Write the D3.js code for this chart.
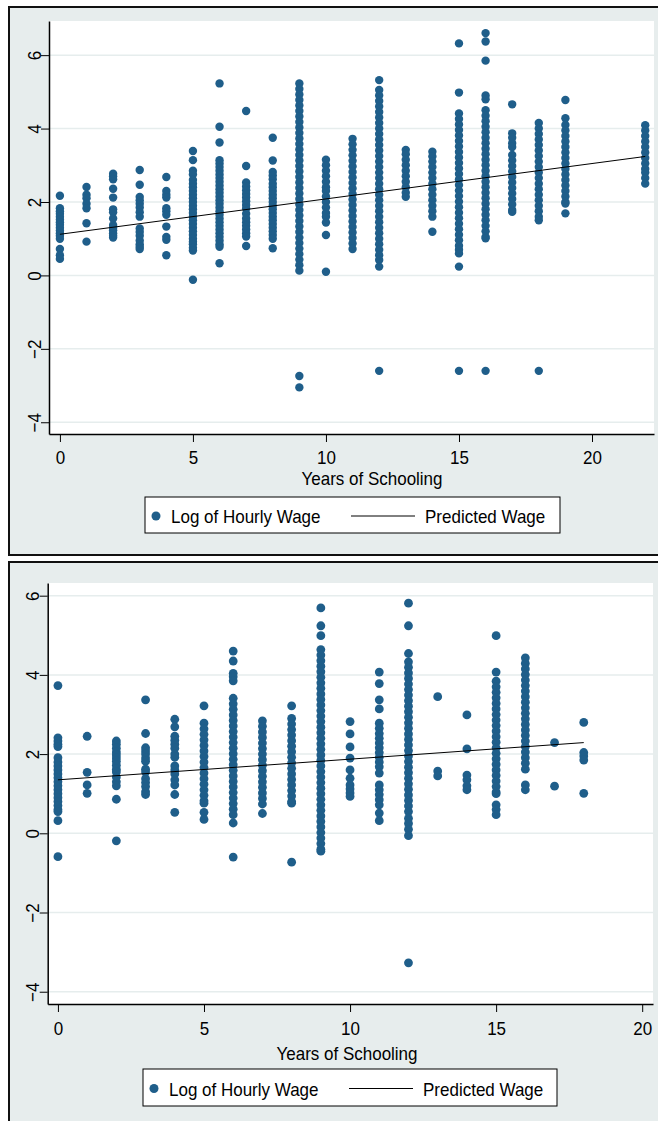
<!DOCTYPE html>
<html>
<head>
<meta charset="utf-8">
<script src="https://cdn.jsdelivr.net/npm/d3@7"></script>
<style>
  html, body { margin: 0; padding: 0; background: #fff; overflow: hidden; }
  svg { display: block; font-family: "Liberation Sans", Arial, sans-serif; }
</style>
</head>
<body>
<div id="chart"></div>
<script>
// --- data ---
const xTicks = [0, 5, 10, 15, 20];
const yTicks = [-4, -2, 0, 2, 4, 6];
const xTitle = 'Years of Schooling';
const legendLabels = ['Log of Hourly Wage', 'Predicted Wage'];

// top panel
const years1 = [0, 1, 2, 3, 4, 5, 6, 7, 8, 9, 10, 11, 12, 13, 14, 15, 16, 17, 18, 19, 22];
const wage1 = [
  [2.17, 1.83, 1.75, 1.68, 1.6, 1.52, 1.45, 1.38, 1.3, 1.22, 1.15, 1.08, 1.0, 0.72, 0.55, 0.45],
  [2.41, 2.2, 2.1, 1.95, 1.83, 1.42, 0.92],
  [2.77, 2.7, 2.62, 2.36, 2.12, 1.8, 1.72, 1.55, 1.37, 1.3, 1.23, 1.15, 1.08, 1.03],
  [2.87, 2.47, 2.14, 2.05, 1.95, 1.85, 1.72, 1.6, 1.28, 1.18, 1.08, 0.95, 0.85, 0.78, 0.72],
  [2.68, 2.3, 2.2, 2.12, 1.83, 1.75, 1.65, 1.33, 1.05, 0.97, 0.55],
  [3.39, 3.14, 2.85, 2.75, 2.6, 2.5, 2.4, 2.3, 2.2, 2.1, 2.0, 1.9, 1.8, 1.7, 1.6, 1.5, 1.4, 1.3, 1.2, 1.1, 1.0, 0.92, 0.85, 0.75, 0.68, -0.12],
  [5.23, 4.05, 3.62, 3.14, 3.05, 2.95, 2.85, 2.75, 2.65, 2.55, 2.45, 2.35, 2.25, 2.15, 2.05, 1.95, 1.85, 1.75, 1.65, 1.55, 1.45, 1.35, 1.25, 1.15, 1.05, 0.95, 0.85, 0.78, 0.33],
  [4.48, 2.98, 2.53, 2.42, 2.32, 2.22, 2.12, 2.02, 1.92, 1.82, 1.68, 1.55, 1.45, 1.35, 1.25, 1.15, 1.06, 0.8],
  [3.75, 3.13, 2.82, 2.72, 2.62, 2.5, 2.4, 2.3, 2.2, 2.1, 2.0, 1.9, 1.8, 1.7, 1.6, 1.5, 1.4, 1.3, 1.2, 1.1, 1.0, 0.74],
  [5.23, 5.08, 4.93, 4.78, 4.63, 4.48, 4.33, 4.18, 4.03, 3.88, 3.73, 3.58, 3.43, 3.28, 3.13, 2.98, 2.83, 2.68, 2.53, 2.38, 2.23, 2.08, 1.93, 1.78, 1.63, 1.48, 1.33, 1.18, 1.03, 0.88, 0.73, 0.58, 0.43, 0.28, 0.13, -2.74, -3.05],
  [3.15, 3.0, 2.85, 2.7, 2.55, 2.4, 2.3, 2.15, 2.0, 1.85, 1.7, 1.6, 1.44, 1.1, 0.1],
  [3.72, 3.57, 3.42, 3.27, 3.12, 2.97, 2.82, 2.67, 2.52, 2.37, 2.22, 2.07, 1.92, 1.77, 1.62, 1.47, 1.32, 1.17, 1.02, 0.87, 0.72],
  [5.32, 5.05, 4.9, 4.75, 4.6, 4.45, 4.3, 4.15, 4.0, 3.85, 3.7, 3.55, 3.4, 3.25, 3.1, 2.95, 2.8, 2.65, 2.5, 2.35, 2.2, 2.05, 1.9, 1.75, 1.6, 1.45, 1.3, 1.15, 1.0, 0.85, 0.7, 0.55, 0.42, 0.24, -2.6],
  [3.42, 3.3, 3.15, 3.0, 2.85, 2.7, 2.55, 2.4, 2.25, 2.14],
  [3.37, 3.24, 3.1, 2.95, 2.8, 2.65, 2.5, 2.35, 2.2, 2.05, 1.9, 1.75, 1.6, 1.19],
  [6.32, 4.98, 4.41, 4.26, 4.11, 3.96, 3.81, 3.66, 3.51, 3.36, 3.21, 3.06, 2.91, 2.76, 2.61, 2.46, 2.31, 2.16, 2.01, 1.86, 1.71, 1.56, 1.41, 1.26, 1.11, 0.96, 0.81, 0.7, 0.6, 0.24, -2.6],
  [6.6, 6.37, 5.85, 4.9, 4.8, 4.5, 4.35, 4.2, 4.05, 3.9, 3.75, 3.6, 3.45, 3.3, 3.15, 3.0, 2.85, 2.7, 2.55, 2.4, 2.25, 2.1, 1.95, 1.8, 1.65, 1.5, 1.35, 1.2, 1.05, 1.01, -2.6],
  [4.66, 3.87, 3.75, 3.6, 3.5, 3.28, 3.13, 2.98, 2.83, 2.68, 2.53, 2.38, 2.23, 2.08, 1.93, 1.78, 1.73],
  [4.15, 4.0, 3.85, 3.7, 3.55, 3.4, 3.25, 3.1, 2.95, 2.8, 2.65, 2.5, 2.35, 2.2, 2.05, 1.9, 1.75, 1.6, 1.5, -2.6],
  [4.78, 4.28, 4.1, 3.95, 3.8, 3.65, 3.5, 3.35, 3.2, 3.05, 2.9, 2.75, 2.6, 2.45, 2.3, 2.15, 2.0, 1.96, 1.69],
  [4.09, 3.95, 3.8, 3.65, 3.5, 3.35, 3.2, 3.05, 2.9, 2.8, 2.65, 2.5]
];
const fitX1 = [0, 22];
const fitY1 = [1.12, 3.24];

// bottom panel
const years2 = [0, 1, 2, 3, 4, 5, 6, 7, 8, 9, 10, 11, 12, 13, 14, 15, 16, 17, 18];
const wage2 = [
  [3.73, 2.41, 2.33, 2.25, 2.19, 1.91, 1.8, 1.7, 1.6, 1.5, 1.4, 1.3, 1.2, 1.1, 1.0, 0.9, 0.8, 0.7, 0.6, 0.55, 0.32, -0.59],
  [2.45, 1.54, 1.22, 1.01],
  [2.33, 2.25, 2.15, 2.05, 1.98, 1.9, 1.82, 1.72, 1.62, 1.55, 1.42, 1.3, 1.2, 0.86, -0.19],
  [3.37, 2.52, 2.16, 2.08, 2.0, 1.9, 1.82, 1.62, 1.55, 1.38, 1.28, 1.18, 1.05, 0.98],
  [2.88, 2.69, 2.45, 2.35, 2.25, 2.15, 2.0, 1.92, 1.7, 1.6, 1.5, 1.35, 1.22, 0.98, 0.53],
  [3.22, 2.78, 2.64, 2.5, 2.36, 2.22, 2.08, 1.94, 1.8, 1.66, 1.52, 1.38, 1.24, 1.1, 0.96, 0.82, 0.76, 0.53, 0.35],
  [4.6, 4.35, 4.04, 3.95, 3.85, 3.41, 3.27, 3.13, 2.99, 2.85, 2.71, 2.57, 2.43, 2.29, 2.15, 2.01, 1.87, 1.73, 1.59, 1.45, 1.31, 1.17, 1.03, 0.89, 0.75, 0.61, 0.47, 0.26, -0.6],
  [2.84, 2.7, 2.56, 2.42, 2.28, 2.14, 2.0, 1.86, 1.72, 1.58, 1.44, 1.3, 1.16, 1.02, 0.88, 0.74, 0.5],
  [3.22, 2.9, 2.76, 2.62, 2.48, 2.34, 2.2, 2.06, 1.92, 1.78, 1.64, 1.5, 1.36, 1.22, 1.08, 0.94, 0.8, 0.76, -0.73],
  [5.69, 5.24, 4.99, 4.64, 4.5, 4.36, 4.22, 4.08, 3.94, 3.8, 3.66, 3.52, 3.38, 3.24, 3.1, 2.96, 2.82, 2.68, 2.54, 2.4, 2.26, 2.12, 1.98, 1.84, 1.7, 1.56, 1.42, 1.28, 1.14, 1.0, 0.86, 0.72, 0.58, 0.44, 0.3, 0.16, 0.02, -0.12, -0.26, -0.4, -0.45],
  [2.82, 2.51, 2.18, 1.9, 1.6, 1.39, 1.22, 1.12, 1.02, 0.93],
  [4.07, 3.78, 3.37, 3.14, 2.78, 2.65, 2.52, 2.4, 2.28, 2.16, 2.04, 1.92, 1.8, 1.68, 1.52, 1.22, 1.1, 0.98, 0.85, 0.72, 0.51, 0.32],
  [5.81, 5.24, 4.54, 4.33, 4.19, 4.05, 3.91, 3.77, 3.63, 3.49, 3.35, 3.21, 3.07, 2.93, 2.79, 2.65, 2.51, 2.37, 2.23, 2.09, 1.95, 1.81, 1.67, 1.53, 1.39, 1.25, 1.11, 0.97, 0.83, 0.69, 0.55, 0.38, 0.25, 0.1, -0.06, -3.27],
  [3.45, 1.57, 1.45],
  [2.99, 2.13, 1.47, 1.35, 1.2, 1.1],
  [4.99, 4.07, 3.84, 3.7, 3.56, 3.42, 3.28, 3.14, 3.0, 2.86, 2.72, 2.58, 2.44, 2.3, 2.16, 2.02, 1.88, 1.74, 1.6, 1.46, 1.32, 1.18, 1.04, 1.0, 0.72, 0.6, 0.47],
  [4.43, 4.29, 4.15, 4.01, 3.87, 3.73, 3.59, 3.45, 3.31, 3.17, 3.03, 2.89, 2.75, 2.61, 2.47, 2.33, 2.19, 2.05, 1.91, 1.77, 1.62, 1.22, 1.1],
  [2.29, 1.19],
  [2.8, 2.04, 1.95, 1.85, 1.01]
];
const fitX2 = [0, 18];
const fitY2 = [1.35, 2.29];

// colours
const dotColor = '#1f5e8a';
const bgGray = '#e7eded';
const gridColor = '#e6eded';

const W = 658, H = 1121;
const svg = d3.select('#chart').append('svg')
  .attr('width', W)
  .attr('height', H);

// layout for each panel (pixels)
const panels = [
  {
    frame: { x: 9, y: 7, w: 680, h: 548 },
    plot: { left: 49, right: 654, top: 21, bottom: 434 },
    xDom: [-0.41, 22.33], yDom: [-4.32, 6.93],
    titleX: 372, titleY: 485, tickLabelY: 30,
    legend: { x: 145, y: 497, w: 415, h: 36 },
    years: years1, wages: wage1, fitX: fitX1, fitY: fitY1, r: 4.2
  },
  {
    frame: { x: 9, y: 562, w: 680, h: 600 },
    plot: { left: 47.7, right: 653, top: 583, bottom: 1004 },
    xDom: [-0.35, 20.37], yDom: [-4.31, 6.32],
    titleX: 347, titleY: 1060, tickLabelY: 31,
    legend: { x: 143, y: 1069, w: 414, h: 37 },
    years: years2, wages: wage2, fitX: fitX2, fitY: fitY2, r: 4.4
  }
];

function drawPanel(p) {
  const g = svg.append('g');

  // outer gray frame
  g.append('rect')
    .attr('x', p.frame.x).attr('y', p.frame.y)
    .attr('width', p.frame.w).attr('height', p.frame.h)
    .attr('fill', bgGray)
    .attr('stroke', '#111')
    .attr('stroke-width', 2);

  // white plot region
  g.append('rect')
    .attr('x', p.plot.left).attr('y', p.plot.top)
    .attr('width', p.plot.right - p.plot.left)
    .attr('height', p.plot.bottom - p.plot.top)
    .attr('fill', '#fff');

  const x = d3.scaleLinear().domain(p.xDom).range([p.plot.left, p.plot.right]);
  const y = d3.scaleLinear().domain(p.yDom).range([p.plot.bottom, p.plot.top]);

  // horizontal gridlines
  g.selectAll('line.grid')
    .data(yTicks)
    .join('line')
      .attr('class', 'grid')
      .attr('x1', p.plot.left).attr('x2', p.plot.right)
      .attr('y1', d => y(d)).attr('y2', d => y(d))
      .attr('stroke', gridColor)
      .attr('stroke-width', 1.5);

  // scatter points
  const pts = [];
  p.years.forEach((yr, i) => p.wages[i].forEach(v => pts.push({ x: yr, y: v })));
  g.append('g')
    .selectAll('circle')
    .data(pts)
    .join('circle')
      .attr('cx', d => x(d.x))
      .attr('cy', d => y(d.y))
      .attr('r', p.r)
      .attr('fill', dotColor);

  // fitted line
  const line = d3.line().x(d => x(d[0])).y(d => y(d[1]));
  g.append('path')
    .datum(p.fitX.map((v, i) => [v, p.fitY[i]]))
    .attr('d', line)
    .attr('fill', 'none')
    .attr('stroke', '#000')
    .attr('stroke-width', 1);

  // y axis
  const yAxis = g.append('g')
    .attr('transform', `translate(${p.plot.left},0)`)
    .call(d3.axisLeft(y).tickValues(yTicks).tickSize(8).tickSizeOuter(0).tickFormat(d3.format('d')));
  yAxis.attr('font-family', null);
  yAxis.select('.domain').attr('stroke', '#000').attr('stroke-width', 1.5);
  yAxis.selectAll('.tick line').attr('stroke', '#000');
  yAxis.selectAll('.tick text')
    .attr('x', null).attr('dy', '0.36em')
    .attr('transform', 'translate(-15,0) rotate(-90) scale(1,1.1)')
    .attr('text-anchor', 'middle')
    .attr('font-size', 17)
    .attr('fill', '#000');

  // x axis
  const xAxis = g.append('g')
    .attr('transform', `translate(0,${p.plot.bottom})`)
    .call(d3.axisBottom(x).tickValues(xTicks).tickSize(8).tickSizeOuter(0));
  xAxis.attr('font-family', null);
  xAxis.select('.domain').attr('stroke', '#000').attr('stroke-width', 1.5);
  xAxis.selectAll('.tick line').attr('stroke', '#000');
  xAxis.selectAll('.tick text')
    .attr('y', null).attr('dy', null)
    .attr('transform', `translate(0,${p.tickLabelY}) scale(1,1.1)`)
    .attr('font-size', 17)
    .attr('fill', '#000');

  // axis title
  g.append('text')
    .attr('transform', `translate(${p.titleX},${p.titleY}) scale(1,1.1)`)
    .attr('text-anchor', 'middle')
    .attr('font-size', 17)
    .text(xTitle);

  // legend
  const L = p.legend;
  const lg = g.append('g').attr('transform', `translate(${L.x},${L.y})`);
  lg.append('rect')
    .attr('width', L.w).attr('height', L.h)
    .attr('fill', '#fff').attr('stroke', '#000').attr('stroke-width', 1);
  lg.append('circle')
    .attr('cx', 11).attr('cy', L.h / 2 + 1).attr('r', 4.5)
    .attr('fill', dotColor);
  lg.append('text')
    .attr('transform', `translate(26,${L.h / 2 + 8}) scale(1,1.1)`)
    .attr('font-size', 17)
    .text(legendLabels[0]);
  lg.append('line')
    .attr('x1', 206).attr('x2', 270)
    .attr('y1', L.h / 2 + 1).attr('y2', L.h / 2 + 1)
    .attr('stroke', '#000').attr('stroke-width', 1);
  lg.append('text')
    .attr('transform', `translate(280,${L.h / 2 + 8}) scale(1,1.1)`)
    .attr('font-size', 17)
    .text(legendLabels[1]);
}

panels.forEach(drawPanel);
</script>
</body>
</html>
